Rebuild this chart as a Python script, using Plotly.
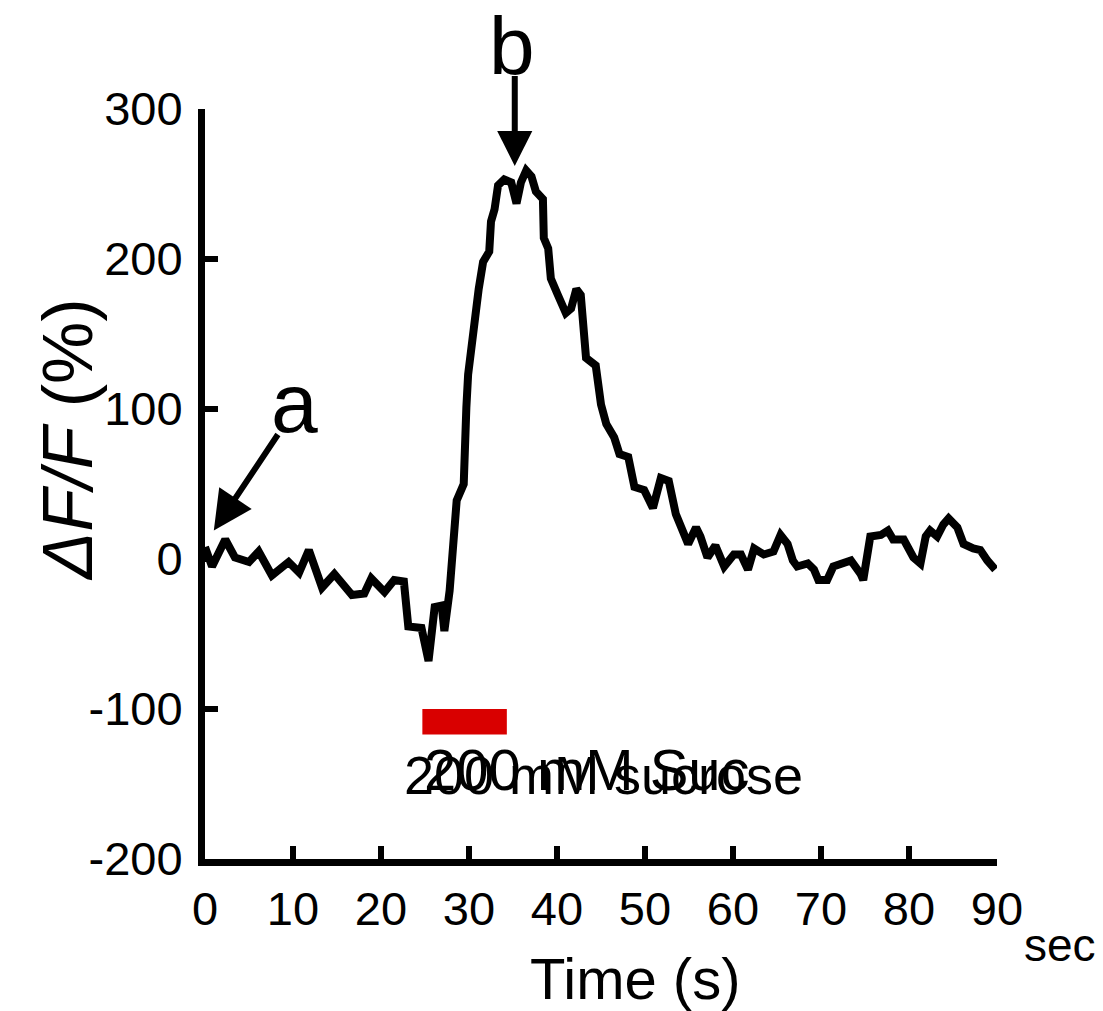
import plotly.graph_objects as go

# Trace values
time_s = [0.0, 0.8, 2.3, 3.4, 5.0, 6.1, 7.6, 9.5, 10.7, 11.8,
          13.3, 14.7, 16.7, 18.1, 18.9, 20.4, 21.5, 22.6, 23.1, 24.6,
          25.4, 26.1, 26.9, 27.2,
          27.8, 28.0, 28.3, 28.6, 29.4, 29.5, 29.7, 29.9, 30.3, 30.8,
          31.1, 31.6, 32.3, 32.5, 32.9, 33.3, 34.0, 34.8, 35.4, 35.9,
          36.5, 37.1, 37.6, 38.4, 38.5, 39.0, 39.3, 40.1, 41.0, 41.6,
          42.2, 42.7, 43.3, 44.4, 45.0, 45.6, 46.5, 47.1, 48.1, 48.8,
          49.9, 50.9, 51.8, 52.7, 53.5, 54.9, 55.8, 56.3, 57.1, 58.0,
          59.0, 60.1, 60.9, 61.7, 62.4, 63.5, 64.6, 65.4, 66.2, 66.8,
          67.3, 68.5, 69.2, 69.7, 70.7, 71.4, 72.6, 73.4, 74.5, 74.8,
          75.6, 76.8, 77.6, 78.2, 79.4, 80.5, 81.3, 81.9, 82.4, 83.2,
          83.9, 84.5, 85.5, 86.2, 87.3, 88.1, 88.9, 89.8]
dff_pct = [8, -5, 13, 1, -2, 5, -11, -2, -9, 6,
           -19, -10, -24, -23, -13, -22, -14, -15, -45, -46,
           -68, -32, -31, -48,
           -21, -1, 19, 39, 50, 81, 101, 123, 145, 167,
           180, 198, 205, 225, 233, 249, 253, 251, 237, 251,
           259, 255, 245, 240, 214, 207, 187, 176, 164, 167,
           180, 176, 134, 129, 103, 90, 81, 70, 68, 48,
           46, 34, 54, 52, 30, 10, 21, 15, 1, 9,
           -5, 3, 3, -7, 7, 3, 5, 16, 10, -1,
           -5, -3, -7, -14, -14, -5, -3, -1, -10, -14,
           15, 16, 19, 13, 13, 1, -3, 15, 19, 15,
           23, 27, 21, 10, 7, 6, -1, -7]

# Stimulus bar
stim_start = 24.7
stim_end = 34.3
stim_low = -117
stim_high = -100

x_ticks = [0, 10, 20, 30, 40, 50, 60, 70, 80, 90]
x_tick_text = ["0", "10", "20", "30", "40", "50", "60", "70", "80", "90"]
y_ticks = [-200, -100, 0, 100, 200, 300]
y_tick_text = ["-200", "-100", "0", "100", "200", "300"]

FONT = "Arial, Liberation Sans, sans-serif"

fig = go.Figure()
fig.add_trace(go.Scatter(
    x=time_s, y=dff_pct, mode="lines",
    line=dict(color="black", width=8),
    showlegend=False, hoverinfo="skip"))

fig.add_shape(type="rect", xref="x", yref="y",
              x0=stim_start, x1=stim_end, y0=stim_low, y1=stim_high,
              fillcolor="#d90000", line=dict(width=0))

def txt(x, y, text, size, xref="x", yref="y", xanchor="center", angle=0):
    return dict(x=x, y=y, xref=xref, yref=yref, text=text, showarrow=False,
                xanchor=xanchor, yanchor="middle", textangle=angle,
                font=dict(family=FONT, size=size, color="black"))

ann = []
ann.append(txt(stim_start, -140, "200 mM Suc", 58, xanchor="left"))
ann.append(txt(22.4, -144, "200 mM sucrose", 54, xanchor="left"))
# arrow a
ann.append(dict(x=1.0, y=19, ax=8.4, ay=84, xref="x", yref="y", axref="x", ayref="y",
                text="", showarrow=True, arrowhead=2, arrowsize=1.3, arrowwidth=6,
                arrowcolor="black"))
ann.append(txt(10.2, 104, "a", 84))
# arrow b
ann.append(dict(x=35.2, y=262, ax=35.2, ay=323, xref="x", yref="y", axref="x", ayref="y",
                text="", showarrow=True, arrowhead=2, arrowsize=1.17, arrowwidth=6,
                arrowcolor="black"))
ann.append(txt(34.9, 1.085, "b", 82, yref="paper"))
ann.append(txt(1.080, -0.115, "sec", 46, xref="paper", yref="paper"))
# axis titles
ann.append(txt(0.543, -0.159, "Time (s)", 58, xref="paper", yref="paper"))
ann.append(txt(-0.173, 0.559, "<i>ΔF/F</i> (%)", 70, xref="paper", yref="paper", angle=-90))

fig.update_layout(
    width=1095, height=1003,
    margin=dict(l=197, r=106, t=101, b=152),
    paper_bgcolor="white", plot_bgcolor="white",
    annotations=ann,
    font=dict(family=FONT, color="black"),
)
fig.update_xaxes(range=[0, 90], tickvals=x_ticks, ticktext=x_tick_text,
                 showgrid=False, zeroline=False, automargin=False,
                 showline=True, linecolor="black", linewidth=7,
                 ticks="inside", ticklen=13, tickwidth=6, tickcolor="black",
                 tickfont=dict(family=FONT, size=47), ticklabelstandoff=3)
fig.update_yaxes(range=[-200, 300], tickvals=y_ticks, ticktext=y_tick_text,
                 showgrid=False, zeroline=False, automargin=False,
                 showline=True, linecolor="black", linewidth=7,
                 ticks="inside", ticklen=13, tickwidth=6, tickcolor="black",
                 tickfont=dict(family=FONT, size=47), ticklabelstandoff=6)

fig.write_html("out.html")
